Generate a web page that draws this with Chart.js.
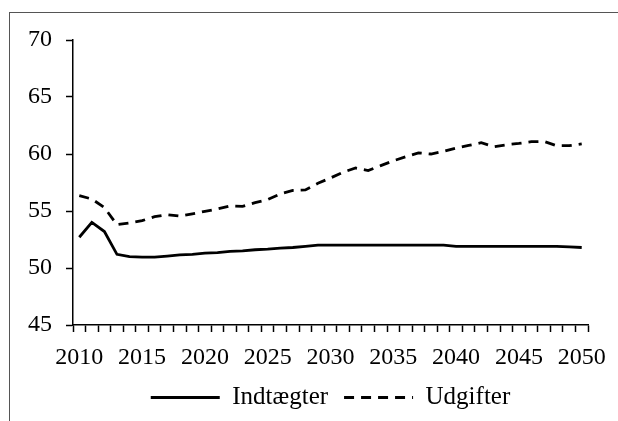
<!DOCTYPE html>
<html lang="da">
<head>
  <meta charset="UTF-8">
  <title>Indtægter og udgifter</title>
  <style>
    body {
      margin: 0;
      background: #fff;
      overflow: hidden;
    }
    /* ramme om figuren, går ud over højre og nederste kant */
    .frame {
      position: absolute;
      left: 9px;
      top: 12px;
      width: 700px;
      height: 500px;
      border: 1.5px solid #555;
    }
    .wrap {
      position: absolute;
      left: 0;
      top: 0;
      width: 618px;
      height: 421px;
    }
  </style>
  <script src="https://cdn.jsdelivr.net/npm/chart.js"></script>
</head>
<body>
  <div class="frame"></div>
  <div class="wrap"><canvas id="chart" width="618" height="421"></canvas></div>
  <script>
    const years = [];
    for (let y = 2010; y <= 2050; y++) years.push(String(y));

    // Indtægter (pct. af BNP)
    const indtaegter = [
      52.7, 54.0, 53.2, 51.2, 51.0, 50.95, 50.95, 51.05, 51.15, 51.2,
      51.3, 51.35, 51.45, 51.5, 51.6, 51.65, 51.75, 51.8, 51.9, 52.0,
      52.0, 52.0, 52.0, 52.0, 52.0, 52.0, 52.0, 52.0, 52.0, 52.0,
      51.9, 51.9, 51.9, 51.9, 51.9, 51.9, 51.9, 51.9, 51.9, 51.85,
      51.8
    ];

    // Udgifter (pct. af BNP)
    const udgifter = [
      56.35, 56.05, 55.3, 53.8, 53.95, 54.15, 54.5, 54.68, 54.55, 54.75,
      54.97, 55.18, 55.45, 55.4, 55.73, 56.0, 56.5, 56.8, 56.85, 57.43,
      57.9, 58.4, 58.77, 58.55, 58.98, 59.4, 59.76, 60.1, 60.0, 60.23,
      60.52, 60.75, 60.99, 60.64, 60.81, 60.93, 61.08, 61.1, 60.73, 60.73,
      60.88
    ];

    const yTicks = [45, 50, 55, 60, 65, 70];

    const serif = "'Liberation Serif', 'Times New Roman', serif";
    const axisFont = { family: serif, size: 24 };
    const legendFont = { family: serif, size: 25 };

    new Chart(document.getElementById('chart'), {
      type: 'line',
      data: {
        labels: years,
        datasets: [
          {
            label: 'Indtægter',
            data: indtaegter,
            borderColor: '#000',
            backgroundColor: '#000',
            borderWidth: 2.8,
            pointRadius: 0,
            tension: 0,
            pointStyle: 'line'
          },
          {
            label: 'Udgifter',
            data: udgifter,
            borderColor: '#000',
            backgroundColor: '#000',
            borderWidth: 2.8,
            borderDash: [10, 7],
            pointRadius: 0,
            tension: 0,
            pointStyle: 'line'
          }
        ]
      },
      options: {
        responsive: false,
        animation: false,
        devicePixelRatio: 1,
        layout: { padding: { left: 0, top: 40, right: 30, bottom: 1 } },
        plugins: {
          tooltip: { enabled: false },
          legend: {
            position: 'bottom',
            fullSize: false,
            labels: {
              color: '#000',
              font: legendFont,
              usePointStyle: true,
              pointStyleWidth: 69,
              boxHeight: 20,
              padding: 16,
              generateLabels: chart => {
                const items = Chart.defaults.plugins.legend.labels.generateLabels(chart);
                items.forEach(it => {
                  const ds = chart.data.datasets[it.datasetIndex];
                  it.lineDash = ds.borderDash || [];
                  it.lineWidth = 2.8;
                  it.strokeStyle = '#000';
                });
                return items;
              }
            }
          }
        },
        scales: {
          x: {
            type: 'category',
            offset: true,
            afterFit: s => { s.height = 44; },
            border: { color: '#000', width: 1.5 },
            grid: {
              offset: true,
              drawOnChartArea: false,
              drawTicks: true,
              tickLength: 7,
              tickWidth: 1.5,
              tickColor: '#000'
            },
            ticks: {
              color: '#000',
              font: axisFont,
              autoSkip: false,
              maxRotation: 0,
              padding: 11,
              callback: function (v, i) {
                const y = Number(years[i]);
                return y % 5 === 0 ? years[i] : '';
              }
            }
          },
          y: {
            min: 45,
            max: 70,
            afterFit: s => { s.width = 73; },
            afterBuildTicks: s => { s.ticks = yTicks.map(v => ({ value: v })); },
            border: { color: '#000', width: 1.5 },
            grid: {
              drawOnChartArea: false,
              drawTicks: true,
              tickLength: 7,
              tickWidth: 1.5,
              tickColor: '#000'
            },
            ticks: {
              color: '#000',
              font: axisFont,
              padding: 14
            }
          }
        }
      }
    });
  </script>
</body>
</html>
